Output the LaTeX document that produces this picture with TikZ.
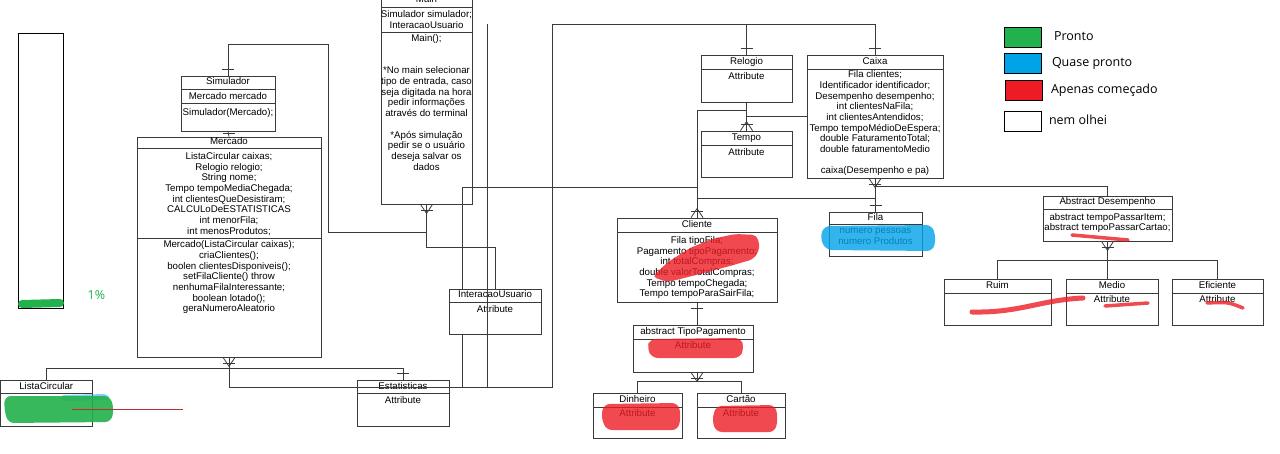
\documentclass[tikz,border=0pt]{standalone}
\usepackage{fontspec}
\setmainfont{Liberation Sans}
\newfontfamily\legendfont{Open Sans}
\usetikzlibrary{arrows.meta,positioning,fit,backgrounds,calc}
\definecolor{ink}{HTML}{3A3A3A}
\definecolor{paintgreen}{HTML}{22B14C}
\definecolor{paintblue}{HTML}{00A2E8}
\definecolor{paintred}{HTML}{ED1C24}
\definecolor{thinred}{HTML}{B83030}
\newcommand{\umlfont}{\fontsize{9.7}{10.7}\selectfont}
\tikzset{
  cls/.style={rectangle, draw=ink, fill=white, line width=0.8pt, inner sep=0pt},
  clstitle/.style={font=\umlfont, text=black, inner sep=0pt, text height=7pt, text depth=2pt},
  clsbody/.style={font=\umlfont, text=black, inner sep=0pt, align=center, anchor=north},
  sepline/.style={draw=ink, line width=0.8pt},
  conn/.style={draw=ink, line width=0.8pt},
  paint/.style={line cap=round, line join=round, opacity=0.8},
  legbox/.style={rectangle, draw=black, line width=0.8pt, minimum width=37pt, minimum height=20pt, inner sep=0pt},
  legtext/.style={font=\legendfont\fontsize{12.5}{14}\selectfont, inner sep=0pt, text height=9pt, text depth=3pt},
  onebar/.pic={\draw[conn] (-6,-6) -- (6,-6);},
  crowfoot/.pic={\draw[conn] (-6,0) -- (0,-9) -- (6,0); \draw[conn] (-6,-6) -- (6,-6);},
}
% name, left, top, right, bottom, title line, title
\newcommand{\umlclass}[7]{%
  \node[cls, fit={(#2,#3) (#4,#5)}] (#1) {};
  \draw[sepline] (#2,#6) -- (#4,#6);
  \node[clstitle] (#1-title) at ({(#2+#4)/2},{(#3+#6)/2}) {#7};
}

\begin{document}
\begin{tikzpicture}[x=1pt, y=-1pt]
\useasboundingbox (0,0) rectangle (1280,454);
\fill[white] (0,0) rectangle (1280,454);

% classes
\umlclass{main}{381}{-7}{472}{204}{7}{Main}
\draw[sepline] (381,32) -- (472,32);
\umlclass{sim}{181}{76}{275}{131}{89}{Simulador}
\draw[sepline] (181,103) -- (275,103);
\umlclass{merc}{137}{137}{321}{357}{148}{Mercado}
\draw[sepline] (137,238) -- (321,238);
\umlclass{lc}{0.5}{380}{92}{426}{393}{ListaCircular}
\umlclass{est}{357}{380}{449}{426}{393}{Estatisticas}
\umlclass{iu}{449}{289}{541}{334}{302}{InteracaoUsuario}
\umlclass{relo}{701}{55}{792}{102}{69}{Relogio}
\umlclass{tempo}{701}{131}{792}{177}{145}{Tempo}
\umlclass{caixa}{807}{55}{943}{178}{69}{Caixa}
\umlclass{cli}{617}{218}{777}{302}{232}{Cliente}
\umlclass{fila}{829}{212}{922}{256}{224}{Fila}
\umlclass{tp}{633}{325}{753}{372}{339}{abstract TipoPagamento}
\umlclass{din}{593}{393}{682}{438}{407}{Dinheiro}
\umlclass{cart}{697}{393}{785}{438}{407}{Cartão}
\umlclass{desemp}{1043}{196}{1172}{241}{209}{Abstract Desempenho}
\umlclass{ruim}{944}{279}{1051}{325}{293}{Ruim}
\umlclass{medio}{1066}{279}{1158}{325}{293}{Medio}
\umlclass{efic}{1172}{279}{1263}{325}{293}{Eficiente}

% class bodies
\node[clsbody] (main-attr) at (426.5,10.2) {Simulador simulador;\\InteracaoUsuario};
\node[clsbody] (main-ops) at (426.5,34.5) {Main();\\[21.4pt]*No main selecionar\\tipo de entrada, caso\\seja digitada na hora\\pedir informações\\através do terminal\\[10.7pt]*Após simulação\\pedir se o usuário\\deseja salvar os\\dados};
\node[clsbody] (sim-attr) at (228,92.2) {Mercado mercado};
\node[clsbody] (sim-ops) at (228,107.9) {Simulador(Mercado);};
\node[clsbody] (merc-attr) at (229,152.2) {ListaCircular caixas;\\Relogio relogio;\\String nome;\\Tempo tempoMediaChegada;\\int clientesQueDesistiram;\\CALCULoDeESTATISTICAS\\int menorFila;\\int menosProdutos;};
\node[clsbody] (merc-ops) at (229,240.5) {Mercado(ListaCircular caixas);\\criaClientes();\\boolen clientesDisponiveis();\\setFilaCliente() throw\\nenhumaFilaInteressante;\\boolean lotado();\\geraNumeroAleatorio};
\node[clsbody] (est-attr) at (403,396) {Attribute};
\node[clsbody] (iu-attr) at (495,305) {Attribute};
\node[clsbody] (relo-attr) at (746.5,72.2) {Attribute};
\node[clsbody] (tempo-attr) at (746.5,148) {Attribute};
\node[clsbody] (caixa-attr) at (875,70.4) {Fila clientes;\\Identificador identificador;\\Desempenho desempenho;\\int clientesNaFila;\\int clientesAntendidos;\\Tempo tempoMédioDeEspera;\\double FaturamentoTotal;\\double faturamentoMedio\\[10.7pt]caixa(Desempenho e pa)};
\node[clsbody] (cli-attr) at (697,236.2) {Fila tipoFila;\\Pagamento tipoPagamento;\\int totalCompras;\\double valorTotalCompras;\\Tempo tempoChegada;\\Tempo tempoParaSairFila;};
\node[clsbody] (fila-attr) at (875.5,228) {numero pessoas\\numero Produtos};
\node[clsbody] (tp-attr) at (693,341) {Attribute};
\node[clsbody] (din-attr) at (637.5,409.5) {Attribute};
\node[clsbody] (cart-attr) at (741,409.5) {Attribute};
\node[clsbody] (desemp-attr) at (1107.5,213) {abstract tempoPassarItem;\\abstract tempoPassarCartao;};
\node[clsbody] (medio-attr) at (1112,295.5) {Attribute};
\node[clsbody] (efic-attr) at (1217.5,295.5) {Attribute};

% bends of the connectors
\coordinate (simbend) at (328,232);
\coordinate (mainbend) at (0,247);
\coordinate (topbus) at (0,24);
\coordinate (lowbus) at (0,387);
\coordinate (midbus) at (0,187);
\coordinate (relbend) at (0,110);
\coordinate (caixabend) at (0,116);
\coordinate (filabus) at (0,198);
\coordinate (desbus) at (0,186);
\coordinate (subbus) at (0,260);
\coordinate (paybus) at (0,381);
\coordinate (listbus) at (0,368);
\coordinate (leftrise) at (462,387);
\coordinate (midrise) at (487,387);
\coordinate (rightrise) at (552,387);

% connectors
\draw[conn] (sim.north) -- ++(0,-31) -| (simbend) -- (main.south |- simbend);
\draw[conn] (sim.south) -- (merc.north);
\draw[conn] (main.south) |- (iu.north |- mainbend) -- (iu.north);
\draw[conn] (merc.south) |- (rightrise) |- (caixa.north |- topbus) -- (caixa.north);
\draw[conn] (midrise) -- (midrise |- topbus);
\draw[conn] (relo.north) -- (relo.north |- topbus);
\draw[conn] (relo.south) -- (tempo.north);
\draw[conn] (relo.south |- relbend) -| (cli.north);
\draw[conn] (caixa.west |- caixabend) -- (relo.south |- caixabend);
\draw[conn] (leftrise) -- (leftrise |- iu.south);
\draw[conn] (leftrise |- iu.north) |- (cli.north |- midbus);
\draw[conn] (caixa.south) -- (caixa.south |- fila.north);
\draw[conn] (caixa.south |- filabus) -- (cli.north |- filabus);
\draw[conn] (caixa.south |- desbus) -| (desemp.north);
\draw[conn] (desemp.south) -- (desemp.south |- medio.north);
\draw[conn] (ruim.north) |- (efic.north |- subbus) -- (efic.north);
\draw[conn] (cli.south) -- (cli.south |- tp.north);
\draw[conn] (cli.south |- tp.south) -- (cli.south |- paybus);
\draw[conn] (din.north) |- (cart.north |- paybus) -- (cart.north);
\draw[conn] (lc.north) |- (est.north |- listbus) -- (est.north);

% multiplicity marks
\pic at (sim.north) {onebar};
\pic at ([yshift=-3pt]merc.north) {onebar};
\pic at (relo.north) {onebar};
\pic at (caixa.north) {onebar};
\pic at (fila.north) {onebar};
\pic at (est.north) {onebar};
\pic[rotate=180] at (cli.south) {onebar};
\pic[rotate=180] at (main.south) {crowfoot};
\pic[rotate=180] at (merc.south) {crowfoot};
\pic[rotate=180] at (caixa.south) {crowfoot};
\pic[rotate=180] at (desemp.south) {crowfoot};
\pic[rotate=180] at (cli.south |- tp.south) {crowfoot};
\pic at (tempo.north) {crowfoot};
\pic at (cli.north) {crowfoot};

% paint over the classes
\fill[paint, paintblue, opacity=0.5, rounded corners=4pt] (60,395) -- (108,394) -- (110,400) -- (62,401) -- cycle;
\fill[paint, paintgreen, opacity=0.9, rounded corners=6pt] (5,396) -- (110,396) -- (114,409) -- (111,422) -- (8,423) -- (4,408) -- cycle;
\draw[thinred, line width=0.8pt] (72,409) -- (183,409);
\fill[paint, paintred, rounded corners=5pt] (652,277) -- (668,262) -- (690,248) -- (712,239) -- (735,234) -- (757,235) -- (760,248) -- (754,259) -- (730,266) -- (700,274) -- (668,282) -- cycle;
\fill[paint, paintblue, rounded corners=6pt] (824,226) -- (932,225) -- (936,238) -- (933,251) -- (826,250) -- (820,238) -- cycle;
\fill[paint, paintred, rounded corners=6pt] (650,339) -- (741,338) -- (744,348) -- (740,358) -- (652,358) -- (647,348) -- cycle;
\fill[paint, paintred, rounded corners=6pt] (604,404) -- (678,403) -- (681,416) -- (678,430) -- (606,430) -- (601,416) -- cycle;
\fill[paint, paintred, rounded corners=6pt] (716,406) -- (775,405) -- (778,418) -- (775,432) -- (716,432) -- (712,420) -- cycle;
\draw[paint, paintred, line width=5pt] (972,312) .. controls (1020,313) and (1040,300) .. (1083,298);
\draw[paint, paintred, line width=3.5pt] (1105,306) -- (1148,303);
\draw[paint, paintred, line width=3.5pt] (1207,303) .. controls (1228,302) .. (1243,308);
\draw[paint, paintred, line width=3.5pt] (1072,235) -- (1128,240);

% progress bar
\node[rectangle, draw=black, line width=0.8pt, fit={(18,33) (63,308)}, inner sep=0pt] (bar) {};
\draw[paint, paintgreen, opacity=1, line width=8pt] (22,304) -- (60,303);
\node[font=\legendfont\fontsize{12.5}{14}\selectfont, text=paintgreen, inner sep=0pt, right=24pt of bar.south east, yshift=13pt] (pct) {1\%};

% legend
\node[legbox, fill=paintgreen, anchor=north west] (leg-done) at (1004,27) {};
\node[legbox, fill=paintblue, anchor=north west] (leg-almost) at (1004,53) {};
\node[legbox, fill=paintred, anchor=north west] (leg-started) at (1005,80) {};
\node[legbox, fill=white, anchor=north west] (leg-none) at (1004,111) {};
\node[legtext, right=12pt of leg-done] {Pronto};
\node[legtext, right=10pt of leg-almost] {Quase pronto};
\node[legtext, right=8pt of leg-started] {Apenas começado};
\node[legtext, right=7pt of leg-none] {nem olhei};
\end{tikzpicture}
\end{document}
